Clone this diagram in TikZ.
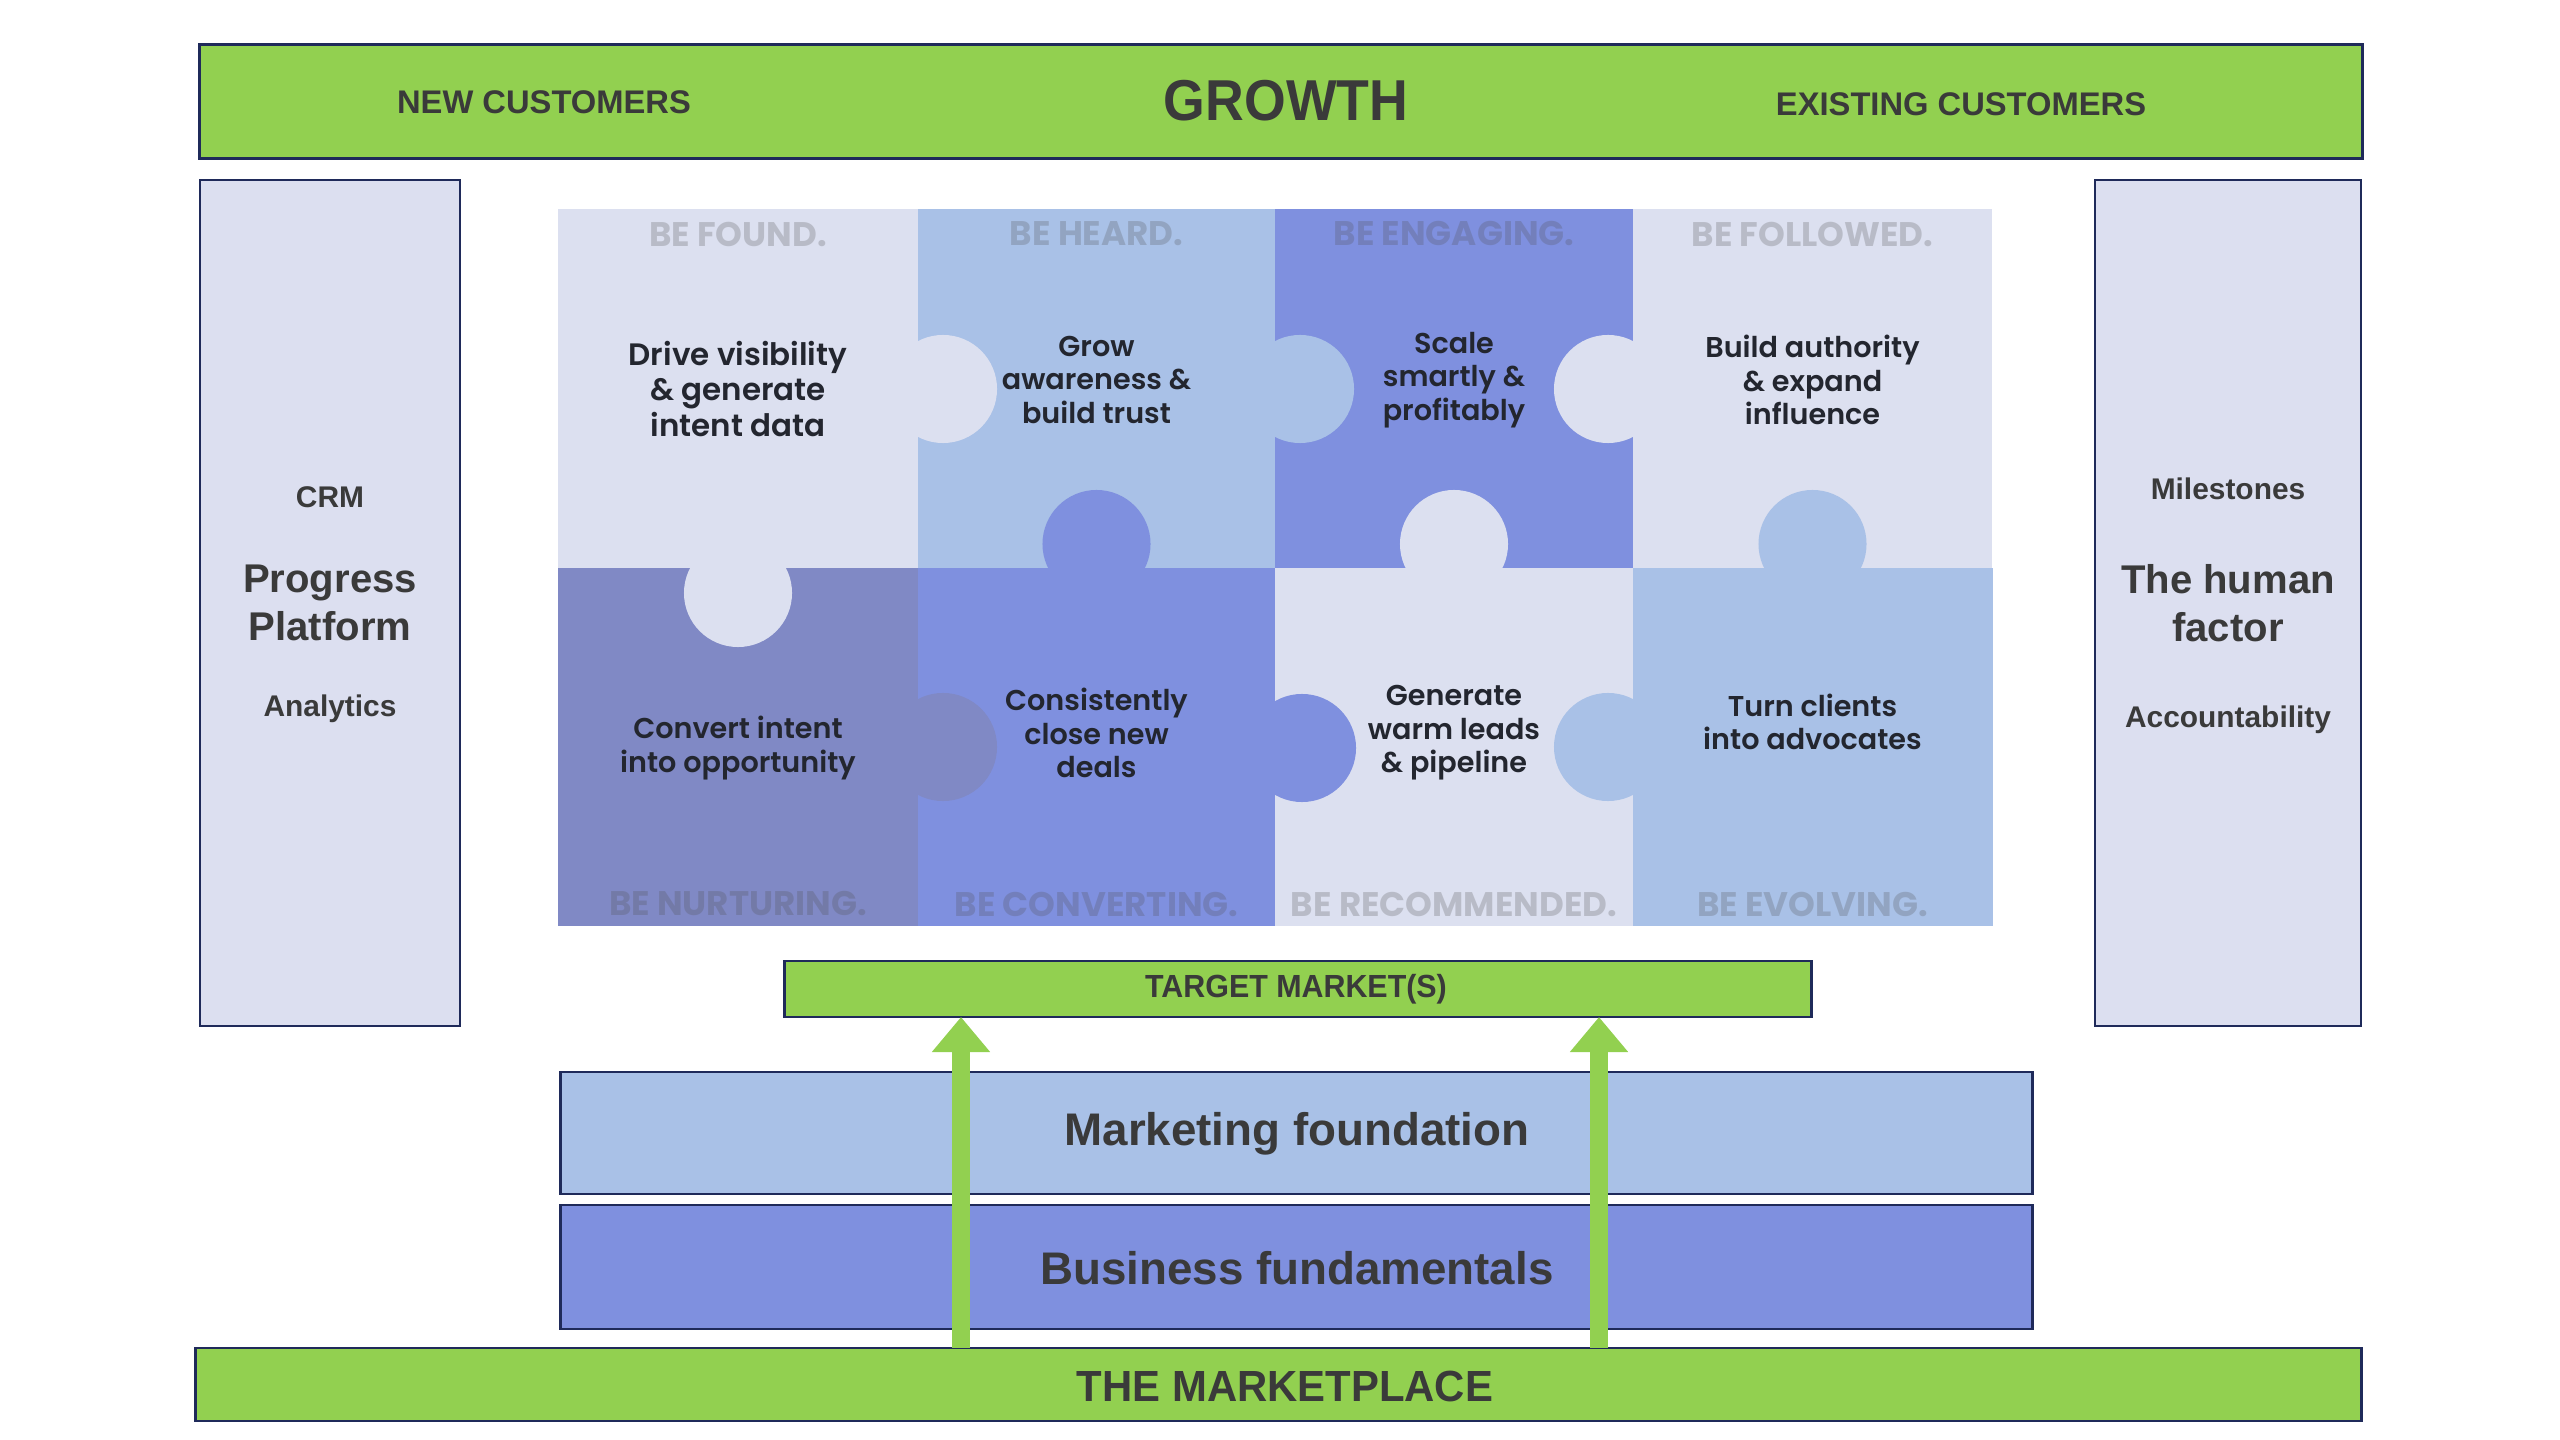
\documentclass[tikz,border=0pt]{standalone}
\usepackage{fontspec}
\usepackage{graphicx}
\setmainfont{Liberation Sans}
\newfontfamily\puz{Poppins}[UprightFont={* SemiBold},BoldFont={* Bold}]
\usetikzlibrary{arrows.meta}
\definecolor{grn}{HTML}{92D050}
\definecolor{navy}{HTML}{1F2A5A}
\definecolor{pL}{HTML}{DCE0F0}
\definecolor{pLB}{HTML}{A9C1E7}
\definecolor{pM}{HTML}{7F90DF}
\definecolor{pD}{HTML}{8089C5}
\definecolor{panel}{HTML}{DCDFF0}
\definecolor{txt}{HTML}{3A3A3A}
\definecolor{ptxt}{HTML}{23262F}
\definecolor{belab}{HTML}{505050}
\begin{document}
\begin{tikzpicture}[x=0.01cm,y=-0.01cm,
  box/.style={draw=navy,line width=0.7pt,inner sep=0pt,outer sep=0pt},
  gbox/.style={box,fill=grn},
  pbox/.style={box,fill=panel},
  lab/.style={text=txt,inner sep=0pt},
  ptext/.style={text=ptxt,font=\puz\fontsize{8.15}{9.5}\selectfont,align=center,inner sep=0pt},
  betext/.style={text=belab,text opacity=0.25,font=\puz\bfseries\fontsize{9.7}{11}\selectfont,inner sep=0pt},
  uparrow/.style={draw=grn,line width=5.3pt,-{Triangle[length=0.35cm,width=0.56cm]}}
]
\useasboundingbox (0,0) rectangle (2560,1440);
\fill[white] (0,0) rectangle (2560,1440);

% top band
\node[gbox,minimum width=21.62cm,minimum height=1.14cm] (growth) at (1281,101.5) {};
\node[lab,font=\bfseries\fontsize{9.3}{11}\selectfont] (newc) at (544,102) {NEW CUSTOMERS};
\node[lab,font=\bfseries\fontsize{16.4}{18}\selectfont] (grw) at (1286,101) {\scalebox{0.93}[1]{GROWTH}};
\node[lab,font=\bfseries\fontsize{9.3}{11}\selectfont] (exc) at (1961,104) {EXISTING CUSTOMERS};

% side panels
\node[pbox,minimum width=2.6cm,minimum height=8.46cm] (leftp) at (330,603) {};
\node[pbox,minimum width=2.66cm,minimum height=8.46cm] (rightp) at (2228,603) {};
\node[lab,font=\bfseries\fontsize{8.5}{10}\selectfont] (crm) at (330,497) {CRM};
\node[lab,font=\bfseries\fontsize{11.4}{13.7}\selectfont,align=center] (prog) at (330,603) {Progress\\Platform};
\node[lab,font=\bfseries\fontsize{8.5}{10}\selectfont] (anl) at (330,709) {Analytics};
\node[lab,font=\bfseries\fontsize{8.5}{10}\selectfont] (mil) at (2228,489) {Milestones};
\node[lab,font=\bfseries\fontsize{11.4}{13.7}\selectfont,align=center] (hum) at (2228,603) {The human\\factor};
\node[lab,font=\bfseries\fontsize{8.5}{10}\selectfont] (acc) at (2228,720) {Accountability};

% puzzle pieces
\fill[pL]  (558,209) rectangle (918,568);
\fill[pLB] (918,209) rectangle (1275,568);
\fill[pM]  (1275,209) rectangle (1633,568);
\fill[pL]  (1633,209) rectangle (1992,568);
\fill[pD]  (558,568) rectangle (918,926);
\fill[pM]  (918,568) rectangle (1275,926);
\fill[pL]  (1275,568) rectangle (1633,926);
\fill[pLB] (1633,568) rectangle (1993,926);
% knobs
\fill[pL]  (943,389) circle[radius=0.54cm];
\fill[pLB] (1300,389) circle[radius=0.54cm];
\fill[pL]  (1608,389) circle[radius=0.54cm];
\fill[pL]  (738,593) circle[radius=0.54cm];
\fill[pM]  (1096.5,544) circle[radius=0.54cm];
\fill[pL]  (1454,544) circle[radius=0.54cm];
\fill[pLB] (1812.5,544) circle[radius=0.54cm];
\fill[pD]  (943,747) circle[radius=0.54cm];
\fill[pM]  (1302,748) circle[radius=0.54cm];
\fill[pLB] (1608,747) circle[radius=0.54cm];

% puzzle labels
\node[betext] (bf1) at (738,234) {BE FOUND.};
\node[betext] (bf2) at (1096.5,234) {BE HEARD.};
\node[betext] (bf3) at (1454,234) {BE ENGAGING.};
\node[betext] (bf4) at (1812.5,234) {BE FOLLOWED.};
\node[betext] (bb1) at (738,904) {BE NURTURING.};
\node[betext] (bb2) at (1096.5,904) {BE CONVERTING.};
\node[betext] (bb3) at (1454,904) {BE RECOMMENDED.};
\node[betext] (bb4) at (1812.5,904) {BE EVOLVING.};

\node[ptext,font=\puz\fontsize{8.8}{10.1}\selectfont] (t1) at (738,389) {Drive visibility\\\& generate\\intent data};
\node[ptext] (t2) at (1096.5,380) {Grow\\awareness \&\\build trust};
\node[ptext] (t3) at (1454,380) {Scale\\smartly \&\\profitably};
\node[ptext] (t4) at (1812.5,380) {Build authority\\\& expand\\influence};
\node[ptext] (t5) at (738,748) {Convert intent\\into opportunity};
\node[ptext] (t6) at (1096.5,733) {Consistently\\close new\\deals};
\node[ptext] (t7) at (1454,733) {Generate\\warm leads\\\& pipeline};
\node[ptext] (t8) at (1812.5,722) {Turn clients\\into advocates};

% lower stack
\node[gbox,minimum width=10.26cm,minimum height=0.56cm] (tgt) at (1298,989) {};
\node[lab,font=\bfseries\fontsize{9.1}{11}\selectfont] (tgtl) at (1296,989) {\scalebox{0.95}[1]{TARGET MARKET(S)}};
\node[box,fill=pLB,minimum width=14.71cm,minimum height=1.22cm] (mf) at (1296.5,1133) {};
\node[lab,font=\bfseries\fontsize{13}{15}\selectfont] (mfl) at (1297,1134) {Marketing foundation};
\node[box,fill=pM,minimum width=14.71cm,minimum height=1.24cm] (bf) at (1296.5,1267) {};
\node[lab,font=\bfseries\fontsize{13}{15}\selectfont] (bfl) at (1297,1268) {Business fundamentals};
\node[gbox,minimum width=21.65cm,minimum height=0.73cm] (mkt) at (1278.5,1384.5) {};
\node[lab,font=\bfseries\fontsize{12.4}{14}\selectfont] (mktl) at (1285,1386) {\scalebox{0.96}[1]{THE MARKETPLACE}};

% arrows
\coordinate (ax1) at (961,0);
\coordinate (ax2) at (1599,0);
\draw[uparrow] (ax1 |- mkt.north) -- (ax1 |- tgt.south);
\draw[uparrow] (ax2 |- mkt.north) -- (ax2 |- tgt.south);
\end{tikzpicture}
\end{document}
